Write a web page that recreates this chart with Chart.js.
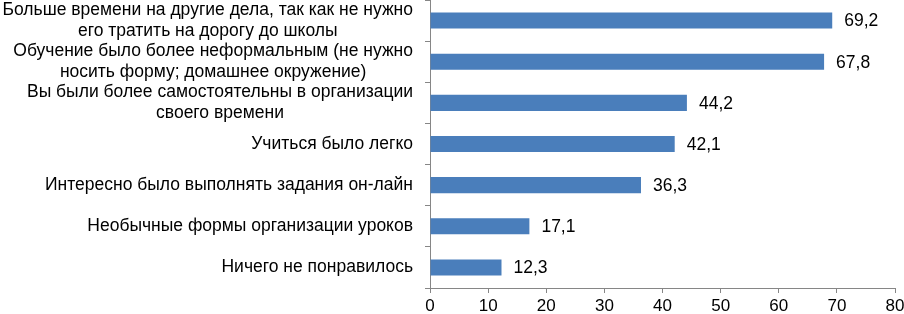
<!DOCTYPE html>
<html><head><meta charset="utf-8">
<script src="https://cdn.jsdelivr.net/npm/chart.js@4/dist/chart.umd.min.js"></script>
<style>html,body{margin:0;padding:0;background:#fff}#wrap{width:904px;height:314px}</style>
</head><body><div id="wrap"><canvas id="c"></canvas></div>
<script>
const categories = [
  ["Больше времени на другие дела, так как не нужно", "его тратить на дорогу до школы"],
  ["Обучение было более неформальным (не нужно", "носить форму; домашнее окружение)"],
  ["Вы были более самостоятельны в организации", "своего времени"],
  ["Учиться было легко"],
  ["Интересно было выполнять задания он-лайн"],
  ["Необычные формы организации уроков"],
  ["Ничего не понравилось"]
];
const values = [69.2, 67.8, 44.2, 42.1, 36.3, 17.1, 12.3];
const xTicks = [0, 10, 20, 30, 40, 50, 60, 70, 80];

const FONT = "'Liberation Sans', Arial, sans-serif";
const TXT = 17.5;
const LINE_H = 21;
const fmt = v => v.toFixed(1).replace('.', ',');

const textPlugin = {
  id: 'textPlugin',
  afterDatasetsDraw(chart) {
    const ctx = chart.ctx;
    const meta = chart.getDatasetMeta(0);
    const yScale = chart.scales.y;
    ctx.save();
    ctx.font = TXT + "px " + FONT;
    ctx.fillStyle = '#000';
    ctx.textBaseline = 'middle';
    const rightEdge = yScale.right - 17;
    categories.forEach((lines, i) => {
      const cy = yScale.getPixelForValue(i);
      const widths = lines.map(l => ctx.measureText(l).width);
      const blockW = Math.max(...widths);
      const cx = rightEdge - blockW / 2;
      ctx.textAlign = 'center';
      lines.forEach((l, j) => {
        const ly = cy + (j - (lines.length - 1) / 2) * LINE_H;
        ctx.fillText(l, cx, ly);
      });
    });
    ctx.textAlign = 'left';
    meta.data.forEach((bar, i) => {
      ctx.fillText(fmt(values[i]), bar.x + 12, bar.y + 1);
    });
    ctx.restore();
  }
};

new Chart(document.getElementById('c'), {
  type: 'bar',
  data: {
    labels: categories,
    datasets: [{
      data: values,
      backgroundColor: '#4A7EBB',
      borderColor: '#4A7EBB',
      borderWidth: 0,
      barPercentage: 0.39,
      categoryPercentage: 1
    }]
  },
  options: {
    indexAxis: 'y',
    responsive: true,
    maintainAspectRatio: false,
    animation: false,
    layout: { padding: { top: 0, right: 9, bottom: 0, left: 0 } },
    plugins: { legend: { display: false }, tooltip: { enabled: false } },
    scales: {
      x: {
        min: 0, max: 80,
        afterBuildTicks(scale) { scale.ticks = xTicks.map(v => ({ value: v })); },
        grid: { drawOnChartArea: false, drawTicks: true, tickLength: 5, color: '#868686' },
        border: { color: '#868686' },
        ticks: { font: { family: FONT, size: 17 }, color: '#000', padding: 3, maxRotation: 0 },
        afterFit(scale) { scale.height = 26; scale.paddingRight = 0; scale.paddingLeft = 0; }
      },
      y: {
        offset: true,
        grid: { offset: true, drawOnChartArea: false, drawTicks: true, tickLength: 5, color: '#868686' },
        border: { color: '#868686' },
        ticks: { display: false },
        afterFit(scale) { scale.width = 430; scale.paddingTop = 0; scale.paddingBottom = 0; }
      }
    }
  },
  plugins: [textPlugin]
});
</script></body></html>
